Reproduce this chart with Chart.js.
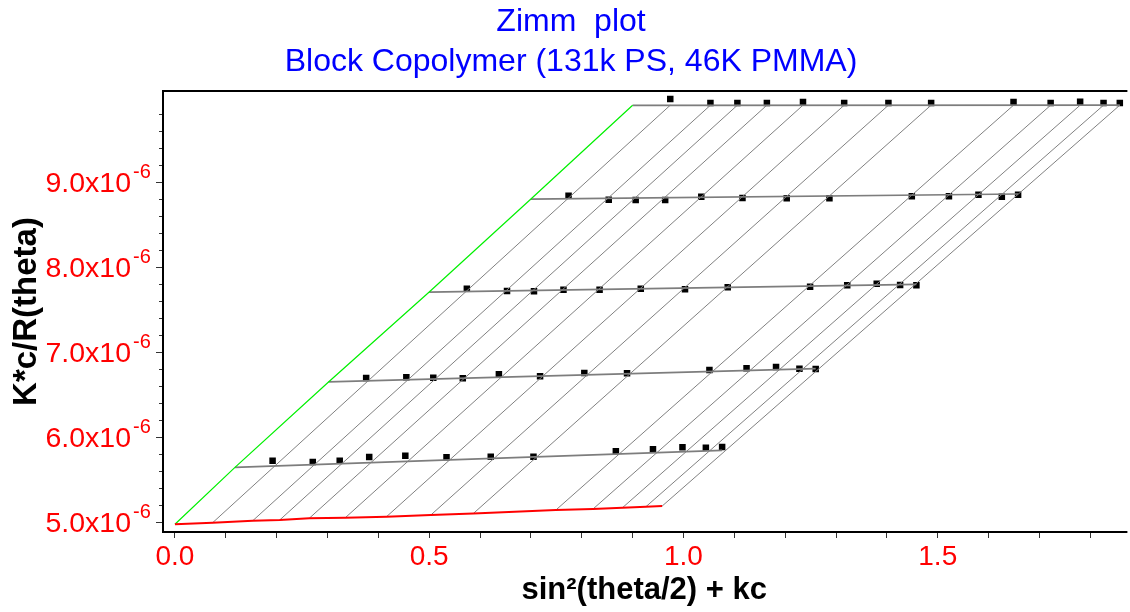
<!DOCTYPE html>
<html>
<head>
<meta charset="utf-8">
<title>Zimm plot</title>
<script src="https://cdn.jsdelivr.net/npm/chart.js@4.4.1/dist/chart.umd.min.js"></script>
<style>
  html, body { margin: 0; padding: 0; background: #ffffff; overflow: hidden; }
  canvas { display: block; }
</style>
</head>
<body>
<canvas id="zimm" width="1130" height="612"></canvas>
<script>
// sin²(θ/2) for each detector angle
const sinSqTheta = [0.074, 0.153, 0.206, 0.264, 0.335, 0.416, 0.503, 0.587, 0.749, 0.822, 0.880, 0.926, 0.958];
// k·c offset of each concentration
const kcOffsets = [0.118, 0.302, 0.500, 0.700, 0.900];

// measured K*c/R(θ), in units of 1e-6, one array per concentration
const kcR_c1 = [5.718, 5.702, 5.718, 5.761, 5.776, 5.758, 5.765, 5.765, 5.828, 5.852, 5.875, 5.871, 5.879];
const kcR_c2 = [6.691, 6.699, 6.694, 6.687, 6.734, 6.711, 6.749, 6.746, 6.785, 6.805, 6.820, 6.800, 6.796];
const kcR_c3 = [7.741, 7.714, 7.711, 7.729, 7.729, 7.741, 7.734, 7.758, 7.765, 7.781, 7.800, 7.785, 7.781];
const kcR_c4 = [8.835, 8.788, 8.785, 8.785, 8.824, 8.808, 8.805, 8.805, 8.828, 8.828, 8.847, 8.824, 8.847];
const kcR_c5 = [9.973, 9.926, 9.926, 9.926, 9.938, 9.926, 9.926, 9.926, 9.938, 9.926, 9.941, 9.926, 9.925];

// fitted concentration lines: value at θ = 0 and at the largest angle
const concFitAtZeroAngle = [5.640, 6.644, 7.702, 8.796, 9.899];
const concFitAtLastAngle = [5.840, 6.800, 7.793, 8.855, 9.900];

// fitted angle lines: value extrapolated to c = 0 and value at the highest concentration
const angleFitAtZeroConc = [4.988, 5.012, 5.020, 5.040, 5.047, 5.059, 5.078, 5.098, 5.137, 5.149, 5.165, 5.176, 5.184];
const angleFitAtTopConc = [9.900, 9.900, 9.900, 9.900, 9.900, 9.900, 9.900, 9.900, 9.900, 9.900, 9.900, 9.900, 9.900];

// double extrapolation (θ = 0, c = 0)
const zeroConcZeroAngle = 4.970;

// tick labels
const xTickLabels = ['0.0', '0.5', '1.0', '1.5'];
const yTickLabels = ['5.0', '6.0', '7.0', '8.0', '9.0'];
const yTickExponent = '-6';

const FONT = "'Liberation Sans', Arial, Helvetica, sans-serif";
const measuredRows = [kcR_c1, kcR_c2, kcR_c3, kcR_c4, kcR_c5];
const lastAngle = sinSqTheta.length - 1;
const topConc = kcOffsets.length - 1;

const datasets = [];

// measured points
measuredRows.forEach((row, i) => {
  datasets.push({
    label: 'c' + (i + 1),
    data: row.map((y, j) => ({ x: sinSqTheta[j] + kcOffsets[i], y })),
    showLine: false,
    pointStyle: 'rect',
    pointRadius: 4.6,
    pointBackgroundColor: '#000000',
    pointBorderColor: '#000000',
    pointBorderWidth: 0,
    order: 10
  });
});

// concentration fit lines
kcOffsets.forEach((kc, i) => {
  datasets.push({
    label: 'fit c' + (i + 1),
    data: [
      { x: kc, y: concFitAtZeroAngle[i] },
      { x: kc + sinSqTheta[lastAngle], y: concFitAtLastAngle[i] }
    ],
    showLine: true,
    pointRadius: 0,
    borderColor: '#7d7d7d',
    borderWidth: 1.7,
    order: 3
  });
});

// angle fit lines
sinSqTheta.forEach((s, j) => {
  datasets.push({
    label: 'fit angle ' + (j + 1),
    data: [
      { x: s, y: angleFitAtZeroConc[j] },
      { x: s + kcOffsets[topConc], y: angleFitAtTopConc[j] }
    ],
    showLine: true,
    pointRadius: 0,
    borderColor: '#808080',
    borderWidth: 1,
    order: 4
  });
});

// c = 0 extrapolation
datasets.push({
  label: 'c = 0',
  data: [{ x: 0, y: zeroConcZeroAngle }].concat(
    sinSqTheta.map((s, j) => ({ x: s, y: angleFitAtZeroConc[j] }))),
  showLine: true,
  pointRadius: 0,
  borderColor: '#ff0000',
  borderWidth: 2,
  order: 1
});

// θ = 0 extrapolation
datasets.push({
  label: 'theta = 0',
  data: [{ x: 0, y: zeroConcZeroAngle }].concat(
    kcOffsets.map((kc, i) => ({ x: kc, y: concFitAtZeroAngle[i] }))),
  showLine: true,
  pointRadius: 0,
  borderColor: '#00f000',
  borderWidth: 1.2,
  order: 1
});

// frame, y tick marks and y tick labels with the power-of-ten exponent
const framePlugin = {
  id: 'zimmFrame',
  afterDraw(chart) {
    const { ctx, chartArea: a, scales: { y } } = chart;
    ctx.save();

    // y tick marks every 0.2, longer on labelled values
    const lastLabel = parseFloat(yTickLabels[yTickLabels.length - 1]);
    ctx.strokeStyle = '#333333';
    ctx.lineWidth = 1;
    y.ticks.forEach(t => {
      if (t.value > lastLabel + 0.85) return;
      const major = yTickLabels.some(l => Math.abs(parseFloat(l) - t.value) < 1e-6);
      const py = Math.round(y.getPixelForValue(t.value)) + 0.5;
      ctx.beginPath();
      ctx.moveTo(a.left - (major ? 7 : 4), py);
      ctx.lineTo(a.left, py);
      ctx.stroke();
    });

    // y tick labels
    ctx.fillStyle = '#ff0000';
    yTickLabels.forEach(label => {
      const py = y.getPixelForValue(parseFloat(label));
      ctx.font = '28.5px ' + FONT;
      ctx.textAlign = 'right';
      ctx.textBaseline = 'alphabetic';
      ctx.fillText(label + 'x10', a.left - 32, py + 10);
      ctx.font = '20px ' + FONT;
      ctx.textAlign = 'left';
      ctx.fillText(yTickExponent, a.left - 30, py - 4);
    });

    // plot frame
    ctx.strokeStyle = '#000000';
    ctx.lineWidth = 2;
    ctx.beginPath();
    ctx.moveTo(a.right + 2, a.top);
    ctx.lineTo(a.left, a.top);
    ctx.lineTo(a.left, a.bottom);
    ctx.lineTo(a.right + 2, a.bottom);
    ctx.stroke();
    ctx.restore();
  }
};

new Chart(document.getElementById('zimm'), {
  type: 'scatter',
  data: { datasets },
  plugins: [framePlugin],
  options: {
    responsive: false,
    animation: false,
    devicePixelRatio: 1,
    layout: { padding: { left: 12, right: 0, top: 0, bottom: 0 } },
    plugins: {
      legend: { display: false },
      tooltip: { enabled: false },
      title: {
        display: true,
        text: ['Zimm  plot', 'Block Copolymer (131k PS, 46K PMMA)'],
        color: '#0000ff',
        font: { family: FONT, size: 32, weight: 'normal', lineHeight: 1.25 },
        padding: { top: 2, bottom: 9 }
      }
    },
    scales: {
      x: {
        type: 'linear',
        min: -0.0235,
        max: 1.869,
        border: { display: false },
        grid: { display: true, drawOnChartArea: false, drawTicks: true, tickLength: 6, color: '#333333' },
        ticks: {
          stepSize: 0.1,
          includeBounds: false,
          autoSkip: false,
          maxRotation: 0,
          padding: 2,
          color: '#ff0000',
          font: { family: FONT, size: 28 },
          callback: v => xTickLabels.find(l => Math.abs(parseFloat(l) - v) < 1e-6) || ''
        },
        title: {
          display: true,
          text: 'sin²(theta/2) + kc',
          color: '#000000',
          font: { family: FONT, size: 31, weight: 'bold', lineHeight: 1.2 },
          padding: { top: 0, bottom: 3 }
        },
        afterFit: s => { s.height = 80; }
      },
      y: {
        type: 'linear',
        min: 4.879,
        max: 10.067,
        border: { display: false },
        grid: { display: false },
        ticks: { display: false, stepSize: 0.2, includeBounds: false },
        title: {
          display: true,
          text: 'K*c/R(theta)',
          color: '#000000',
          font: { family: FONT, size: 33, weight: 'bold', lineHeight: 1.2 },
          padding: { top: -5, bottom: 0 }
        },
        afterFit: s => { s.width = 151; }
      }
    }
  }
});
</script>
</body>
</html>
